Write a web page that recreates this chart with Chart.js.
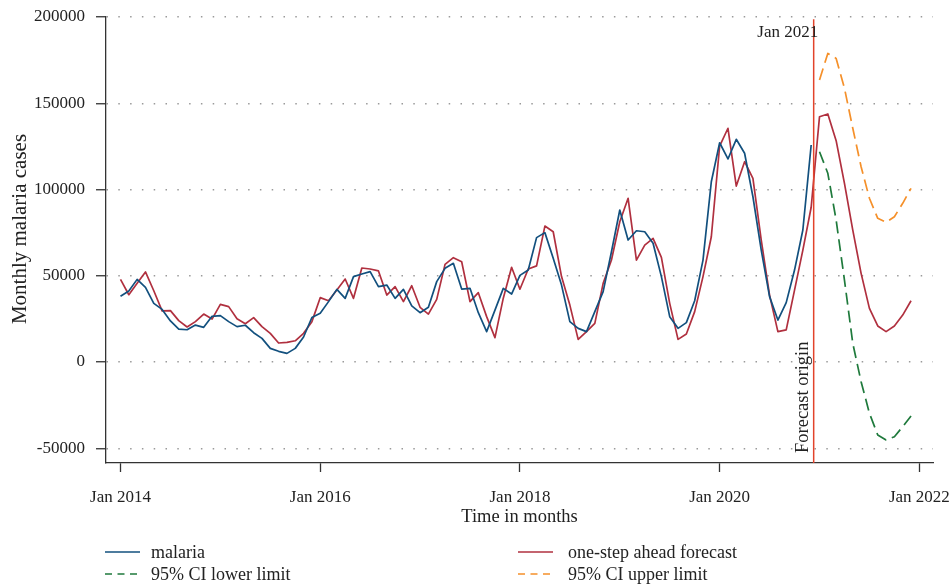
<!DOCTYPE html>
<html>
<head>
<meta charset="utf-8">
<script src="https://cdn.jsdelivr.net/npm/chart.js@4/dist/chart.umd.min.js"></script>
<style>
  html, body { margin: 0; padding: 0; background: #ffffff; }
  canvas { display: block; }
</style>
</head>
<body>
<canvas id="chart" width="950" height="588"></canvas>
<script>
// Month index 0 = Jan 2014
// Observed monthly malaria cases, Jan 2014 - Dec 2020
const malaria = [
  38100, 41200, 47900, 43300, 34000, 30500, 23800, 19100, 18700, 21400, 20100, 26500,
  26900, 23400, 20500, 21300, 17000, 13700, 7900, 6200, 5000, 7900, 14500, 25800,
  28200, 35000, 42100, 36900, 49500, 51000, 52400, 43700, 44600, 36900, 42100, 32500,
  28600, 31700, 46600, 54300, 57200, 42300, 42700, 28600, 17600, 30100, 42700, 39400,
  50200, 53300, 72100, 75000, 60100, 44600, 23400, 19500, 17600, 29200, 40800, 63900,
  88100, 70700, 76100, 75500, 68800, 49500, 26300, 19500, 22800, 35500, 59100, 104500,
  127100, 117700, 129100, 121000, 95800, 64900, 37900, 24300, 34400, 53300, 76500, 125800
];

// One-step ahead forecast, Jan 2014 - Dec 2021
const oneStepForecast = [
  47900, 39000, 45600, 52200, 41300, 29600, 29800, 24000, 20300, 23400, 27800, 24900,
  33400, 32100, 25100, 22200, 25700, 20500, 16600, 11000, 11400, 12300, 16600, 23400,
  37300, 35500, 41700, 48100, 36900, 54500, 53900, 52800, 38800, 43700, 35000, 44200,
  31700, 27800, 36300, 56600, 60500, 58100, 35000, 40200, 26300, 14100, 37000, 54900,
  42200, 53900, 55700, 78800, 75500, 49500, 33000, 13100, 17600, 22400, 45600, 59100,
  81300, 94900, 59100, 67800, 71700, 60700, 34000, 13100, 16200, 29200, 49500, 72600,
  125200, 135500, 102000, 116100, 106500, 70700, 38800, 17600, 18600, 41700, 64900, 89700,
  142200, 143800, 128300, 103600, 76500, 51400, 31100, 20900, 17600, 20900, 27200, 35500
];

// 95% confidence limits, Jan 2021 - Dec 2021
const ciLower = [121900, 109400, 82300, 47500, 10800, -11400, -29700, -42300, -45200, -43300, -37500, -31300];
const ciUpper = [163500, 178900, 176000, 158700, 135500, 113200, 94900, 83300, 81000, 84200, 92000, 100700];

const forecastStart = 84;      // Jan 2021
const forecastOrigin = 83.3;   // position of the origin marker
const originLabel = 'Jan 2021';
const originCaption = 'Forecast origin';

const xTickMonths = [0, 24, 48, 72, 96];
const xTickLabels = ['Jan 2014', 'Jan 2016', 'Jan 2018', 'Jan 2020', 'Jan 2022'];
const yTickValues = [-50000, 0, 50000, 100000, 150000, 200000];

const seriesNames = ['malaria', 'one-step ahead forecast', '95% CI lower limit', '95% CI upper limit'];

const SERIF = '"Liberation Serif", "Times New Roman", serif';
const TEXT = '#222222';
const AXIS = '#333333';

const legendLayout = { sampleX: [105, 518], textX: [151, 568], rowY: [552, 574], sampleLen: 35, dash: [7, 5.5] };

const annotations = {
  id: 'annotations',
  afterDraw(chart) {
    const { ctx, chartArea, scales: { x, y } } = chart;
    ctx.save();

    // forecast origin marker
    const ox = x.getPixelForValue(forecastOrigin);
    ctx.strokeStyle = '#e2432b';
    ctx.lineWidth = 1.5;
    ctx.setLineDash([]);
    ctx.beginPath();
    ctx.moveTo(ox, y.getPixelForValue(198700));
    ctx.lineTo(ox, chartArea.bottom);
    ctx.stroke();

    ctx.fillStyle = TEXT;
    ctx.font = '17px ' + SERIF;
    ctx.textAlign = 'right';
    ctx.textBaseline = 'alphabetic';
    ctx.fillText(originLabel, ox + 4.5, 36.5);

    ctx.save();
    ctx.translate(ox - 5.5, 453);
    ctx.rotate(-Math.PI / 2);
    ctx.font = '18.5px ' + SERIF;
    ctx.textAlign = 'left';
    ctx.fillText(originCaption, 0, 0);
    ctx.restore();

    // y axis title
    ctx.save();
    ctx.translate(20.5, 229);
    ctx.rotate(-Math.PI / 2);
    ctx.font = '21px ' + SERIF;
    ctx.textAlign = 'center';
    ctx.textBaseline = 'middle';
    ctx.fillText('Monthly malaria cases', 0, 0);
    ctx.restore();

    // legend, two columns
    ctx.font = '18px ' + SERIF;
    ctx.textAlign = 'left';
    ctx.textBaseline = 'middle';
    chart.data.datasets.forEach((ds, i) => {
      const col = i % 2, row = Math.floor(i / 2);
      const ly = legendLayout.rowY[row];
      const lx = legendLayout.sampleX[col];
      ctx.strokeStyle = ds.borderColor;
      ctx.lineWidth = 1.7;
      ctx.setLineDash(ds.borderDash ? legendLayout.dash : []);
      ctx.beginPath();
      ctx.moveTo(lx, ly);
      ctx.lineTo(lx + legendLayout.sampleLen, ly);
      ctx.stroke();
      ctx.setLineDash([]);
      ctx.fillStyle = TEXT;
      ctx.fillText(ds.label, legendLayout.textX[col], ly + 1);
    });

    ctx.restore();
  }
};

const points = (values, start) => values.map((v, i) => ({ x: start + i, y: v }));

new Chart(document.getElementById('chart'), {
  type: 'line',
  data: {
    datasets: [
      { label: seriesNames[0], data: points(malaria, 0), borderColor: '#12507e', borderWidth: 1.7 },
      { label: seriesNames[1], data: points(oneStepForecast, 0), borderColor: '#b0303f', borderWidth: 1.7 },
      { label: seriesNames[2], data: points(ciLower, forecastStart), borderColor: '#1f7a3c', borderWidth: 1.7, borderDash: [12, 6] },
      { label: seriesNames[3], data: points(ciUpper, forecastStart), borderColor: '#f5902a', borderWidth: 1.7, borderDash: [12, 6] }
    ]
  },
  options: {
    responsive: false,
    animation: false,
    devicePixelRatio: 1,
    layout: { padding: { left: 0, right: 17, top: 17, bottom: 60 } },
    elements: {
      point: { radius: 0, hoverRadius: 0 },
      line: { tension: 0, borderJoinStyle: 'round', borderCapStyle: 'butt' }
    },
    plugins: { legend: { display: false }, tooltip: { enabled: false } },
    scales: {
      x: {
        type: 'linear',
        min: -1.743,
        max: 97.64,
        afterBuildTicks(scale) { scale.ticks = xTickMonths.map(v => ({ value: v })); },
        afterFit(scale) { scale.height = 65; scale.paddingLeft = 0; scale.paddingRight = 0; },
        ticks: {
          autoSkip: false, maxRotation: 0, padding: 15, color: TEXT,
          font: { family: SERIF, size: 17 },
          callback: (v) => xTickLabels[xTickMonths.indexOf(v)]
        },
        grid: { drawOnChartArea: false, drawTicks: true, tickLength: 9, tickColor: AXIS, tickWidth: 1.3 },
        border: { display: true, color: AXIS, width: 1.3 },
        title: {
          display: true, text: 'Time in months', color: TEXT,
          font: { family: SERIF, size: 18.5, lineHeight: 1.2 }, padding: 0
        }
      },
      y: {
        type: 'linear',
        min: -58550,
        max: 200000,
        afterBuildTicks(scale) { scale.ticks = yTickValues.map(v => ({ value: v })); },
        afterFit(scale) { scale.width = 106; scale.paddingTop = 0; scale.paddingBottom = 0; },
        ticks: {
          padding: 11, color: TEXT,
          font: { family: SERIF, size: 17 },
          callback: (v) => String(v)
        },
        grid: {
          drawOnChartArea: true, color: '#9a9a9a', lineWidth: 1.5,
          drawTicks: true, tickLength: 10, tickColor: AXIS, tickWidth: 1.3, tickBorderDash: []
        },
        border: { display: true, color: AXIS, width: 1.3, dash: [1.5, 10.3], dashOffset: 11.6 }
      }
    }
  },
  plugins: [annotations]
});
</script>
</body>
</html>
